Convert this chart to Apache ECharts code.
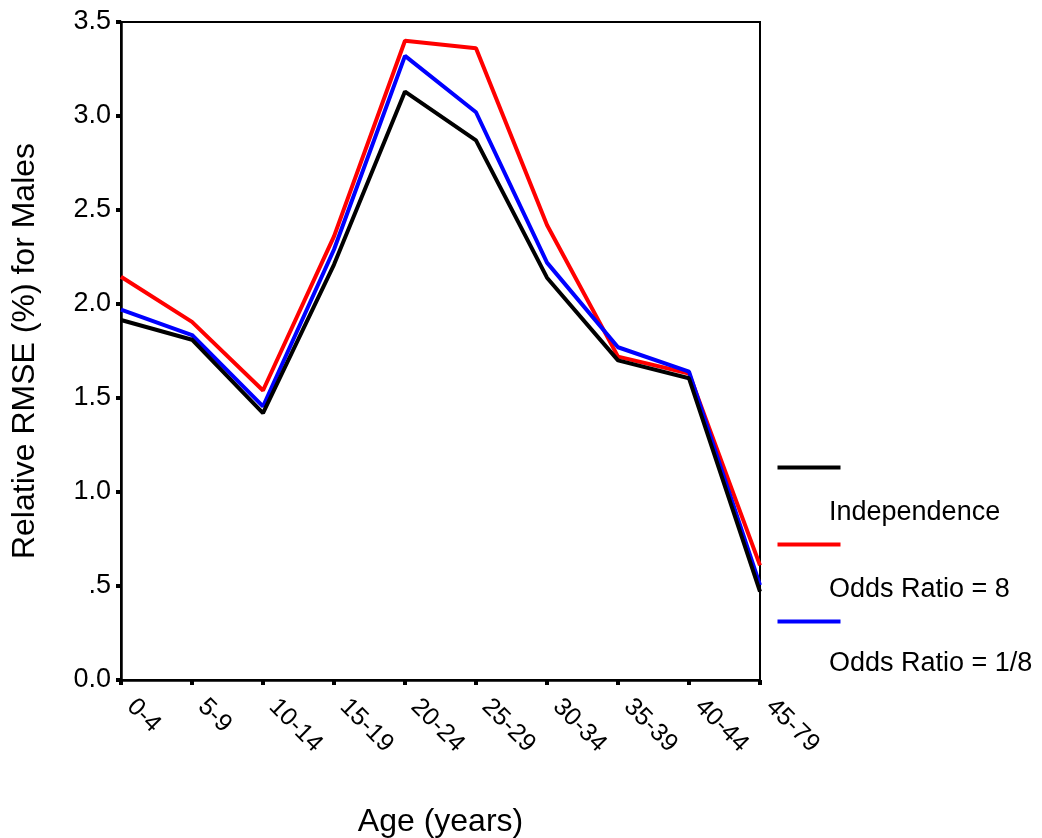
<!DOCTYPE html>
<html>
<head>
<meta charset="utf-8">
<script src="https://cdn.jsdelivr.net/npm/echarts@6/dist/echarts.min.js"></script>
<style>html,body{margin:0;padding:0;background:#fff;}#c{width:1042px;height:838px;}</style>
</head>
<body>
<div id="c"></div>
<script>
const categories = ['0-4','5-9','10-14','15-19','20-24','25-29','30-34','35-39','40-44','45-79'];
const independence = [1.915, 1.81, 1.42, 2.21, 3.13, 2.87, 2.14, 1.70, 1.605, 0.47];
const oddsRatio8 = [2.145, 1.905, 1.54, 2.36, 3.40, 3.36, 2.42, 1.72, 1.63, 0.61];
const oddsRatio1_8 = [1.97, 1.835, 1.455, 2.29, 3.32, 3.02, 2.22, 1.77, 1.64, 0.505];
const yTickValues = [0, 0.5, 1, 1.5, 2, 2.5, 3, 3.5];
const yTickLabels = ['0.0', '.5', '1.0', '1.5', '2.0', '2.5', '3.0', '3.5'];
const legendNames = ['Independence', 'Odds Ratio = 8', 'Odds Ratio = 1/8'];
const colors = ['#000000', '#ff0000', '#0000ff'];

const FONT = 'Liberation Sans, Arial, sans-serif';
const chart = echarts.init(document.getElementById('c'));

const legendGraphics = [];
const lineYs = [467, 544, 621];
const textYs = [514, 591, 665];
legendNames.forEach((n, i) => {
  legendGraphics.push({
    type: 'line', left: 775, top: lineYs[i] - 2,
    shape: { x1: 0, y1: 0, x2: 63, y2: 0 },
    style: { stroke: colors[i], lineWidth: 4 }
  });
  legendGraphics.push({
    type: 'text', left: 829, top: textYs[i] - 15,
    style: { text: n, fill: '#000', font: '27px ' + FONT }
  });
});

const seriesData = [independence, oddsRatio8, oddsRatio1_8];
const order = [1, 2, 0];

chart.setOption({
  animation: false,
  backgroundColor: '#fff',
  grid: { left: 121, right: 282, top: 22, bottom: 158, show: true, borderColor: '#000', borderWidth: 2, outerBoundsMode: 'none', containLabel: false },
  xAxis: {
    type: 'category', data: categories, boundaryGap: false,
    name: 'Age (years)', nameLocation: 'middle', nameGap: 126,
    nameTextStyle: { fontSize: 32, color: '#000', fontFamily: FONT },
    axisLine: { lineStyle: { color: '#000', width: 2.5 } },
    axisTick: { show: true, length: 5, inside: false, alignWithLabel: true, lineStyle: { color: '#000', width: 4 } },
    axisLabel: { rotate: -45, fontSize: 25, color: '#000', fontFamily: FONT, margin: 13, interval: 0, padding: [0, 0, 0, 14] },
    splitLine: { show: false }
  },
  yAxis: {
    type: 'value', min: 0, max: 3.5, interval: 0.5,
    name: 'Relative RMSE (%) for Males', nameLocation: 'middle', nameGap: 80,
    nameTextStyle: { fontSize: 32, color: '#000', fontFamily: FONT },
    axisLine: { show: true, lineStyle: { color: '#000', width: 2.5 } },
    axisTick: { show: true, length: 5, lineStyle: { color: '#000', width: 4 } },
    axisLabel: {
      fontSize: 27, color: '#000', fontFamily: FONT, margin: 10,
      formatter: v => { const i = yTickValues.findIndex(t => Math.abs(t - v) < 1e-9); return i >= 0 ? yTickLabels[i] : ''; }
    },
    splitLine: { show: false }
  },
  series: order.map(i => ({
    name: legendNames[i], type: 'line', data: seriesData[i],
    symbol: 'none', lineStyle: { color: colors[i], width: 4 },
    itemStyle: { color: colors[i] }, z: 3
  })),
  graphic: legendGraphics
});
</script>
</body>
</html>
